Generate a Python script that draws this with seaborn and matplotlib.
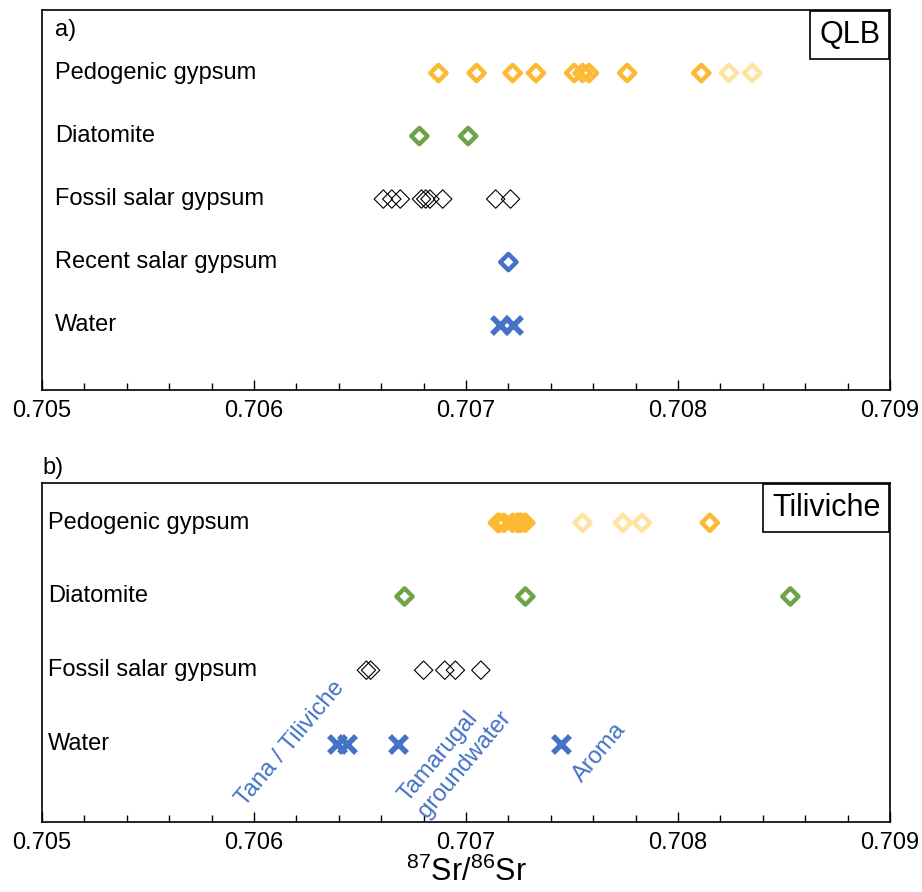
import numpy as np
import pandas as pd
import matplotlib.pyplot as plt
import seaborn as sns
from matplotlib.ticker import MultipleLocator, FormatStrFormatter
from matplotlib.transforms import blended_transform_factory

# data: 87Sr/86Sr ratios
qlb_rows = ['Pedogenic gypsum', 'Diatomite', 'Fossil salar gypsum', 'Recent salar gypsum', 'Water']
qlb_pedogenic = [0.70687, 0.70705, 0.70722, 0.70733, 0.70751, 0.70755, 0.70758, 0.70776, 0.70811]
qlb_pedogenic_light = [0.70824, 0.70835]
qlb_diatomite = [0.70678, 0.70701]
qlb_fossil = [0.70661, 0.70665, 0.70669, 0.70679, 0.70681, 0.70683, 0.70689, 0.70714, 0.70721]
qlb_recent = [0.70720]
qlb_water = [0.70716, 0.70722]

til_rows = ['Pedogenic gypsum', 'Diatomite', 'Fossil salar gypsum', 'Water']
til_pedogenic = [0.70715, 0.70716, 0.70718, 0.70722, 0.70724, 0.70725, 0.70726, 0.70728, 0.70815]
til_pedogenic_light = [0.70755, 0.70774, 0.70783]
til_diatomite = [0.70671, 0.70728, 0.70853]
til_fossil = [0.70653, 0.70655, 0.70680, 0.70690, 0.70695, 0.70707]
til_water = [0.70639, 0.70644, 0.70668, 0.70745]
water_names = ['Tana / Tiliviche', 'Tamarugal\ngroundwater', 'Aroma']

GOLD = '#FDB933'
GOLD_LIGHT = '#FFE3A3'
GREEN = '#70A349'
BLUE = '#4472C4'

sns.set_style('white')
plt.rcParams['font.family'] = ['Liberation Sans', 'DejaVu Sans']
plt.rcParams['text.color'] = 'black'
plt.rcParams['axes.labelcolor'] = 'black'
plt.rcParams['xtick.color'] = 'black'


def draw(ax, values, row, kind, color='black'):
    df = pd.DataFrame({'sr': values, 'row': [row] * len(values)})
    if kind == 'thick':
        sns.scatterplot(data=df, x='sr', y='row', marker='D', s=68, color=color,
                        facecolor='none', edgecolor=color, linewidth=3.2, ax=ax, zorder=3)
    elif kind == 'thin':
        sns.scatterplot(data=df, x='sr', y='row', marker='D', s=88, color='black',
                        facecolor='none', edgecolor='black', linewidth=0.8, ax=ax, zorder=3)
    else:
        sns.scatterplot(data=df, x='sr', y='row', marker='x', s=150, color=color,
                        linewidth=4, ax=ax, zorder=3)


def style(ax, rows, ylim, label_x):
    ax.set_xlim(0.705, 0.709)
    ax.set_ylim(*ylim)
    ax.set_yticks([])
    ax.set_xlabel('')
    ax.set_ylabel('')
    ax.xaxis.set_major_locator(MultipleLocator(0.001))
    ax.xaxis.set_minor_locator(MultipleLocator(0.0002))
    ax.xaxis.set_major_formatter(FormatStrFormatter('%.3f'))
    ax.tick_params(axis='x', which='major', direction='in', length=7, width=1,
                   labelsize=17, pad=7, bottom=True)
    ax.tick_params(axis='x', which='minor', direction='in', length=5, width=1, bottom=True)
    for sp in ax.spines.values():
        sp.set_visible(True)
        sp.set_color('black')
        sp.set_linewidth(1.2)
    tr = blended_transform_factory(ax.transAxes, ax.transData)
    for i, name in enumerate(rows):
        ax.text(label_x, i, name, transform=tr, ha='left', va='center', fontsize=17)


fig = plt.figure(figsize=(9.22, 8.92), dpi=100)
ax_a = fig.add_axes([42 / 922, 1 - 390 / 892, 848 / 922, 380 / 892])
ax_b = fig.add_axes([42 / 922, 1 - 822 / 892, 848 / 922, 339 / 892])

# panel a - QLB
draw(ax_a, qlb_pedogenic_light, 0, 'thick', GOLD_LIGHT)
draw(ax_a, qlb_pedogenic, 0, 'thick', GOLD)
draw(ax_a, qlb_diatomite, 1, 'thick', GREEN)
draw(ax_a, qlb_fossil, 2, 'thin')
draw(ax_a, qlb_recent, 3, 'thick', BLUE)
draw(ax_a, qlb_water, 4, 'cross', BLUE)
style(ax_a, qlb_rows, (5.03, -1.0), 0.015)
ax_a.text(0.015, 0.947, 'a)', transform=ax_a.transAxes, ha='left', va='center', fontsize=17)
ax_a.annotate('QLB', xy=(1, 1), xycoords='axes fraction', xytext=(-7, -7),
              textcoords='offset points', ha='right', va='top', fontsize=22,
              bbox=dict(boxstyle='square,pad=0.3', fc='white', ec='black', lw=1.2))

# panel b - Tiliviche
draw(ax_b, til_pedogenic_light, 0, 'thick', GOLD_LIGHT)
draw(ax_b, til_pedogenic, 0, 'thick', GOLD)
draw(ax_b, til_diatomite, 1, 'thick', GREEN)
draw(ax_b, til_fossil, 2, 'thin')
draw(ax_b, til_water, 3, 'cross', BLUE)
style(ax_b, til_rows, (4.06, -0.54), 0.007)
ax_b.annotate('Tiliviche', xy=(1, 1), xycoords='axes fraction', xytext=(-7, -7),
              textcoords='offset points', ha='right', va='top', fontsize=22,
              bbox=dict(boxstyle='square,pad=0.3', fc='white', ec='black', lw=1.2))
fig.text(42 / 922, 1 - 468 / 892, 'b)', ha='left', va='center', fontsize=17)

# water source labels
label_pos = [(0.70617, 3.0), (0.70695, 3.17), (0.70763, 3.12)]
for name, (lx, ly) in zip(water_names, label_pos):
    ax_b.text(lx, ly, name, rotation=50, ha='center', va='center', multialignment='left',
              color=BLUE, fontsize=17)

ax_b.set_xlabel(r'$\mathregular{^{87}Sr/^{86}Sr}$', fontsize=22, labelpad=2)

fig.savefig('out.png', dpi=100)
